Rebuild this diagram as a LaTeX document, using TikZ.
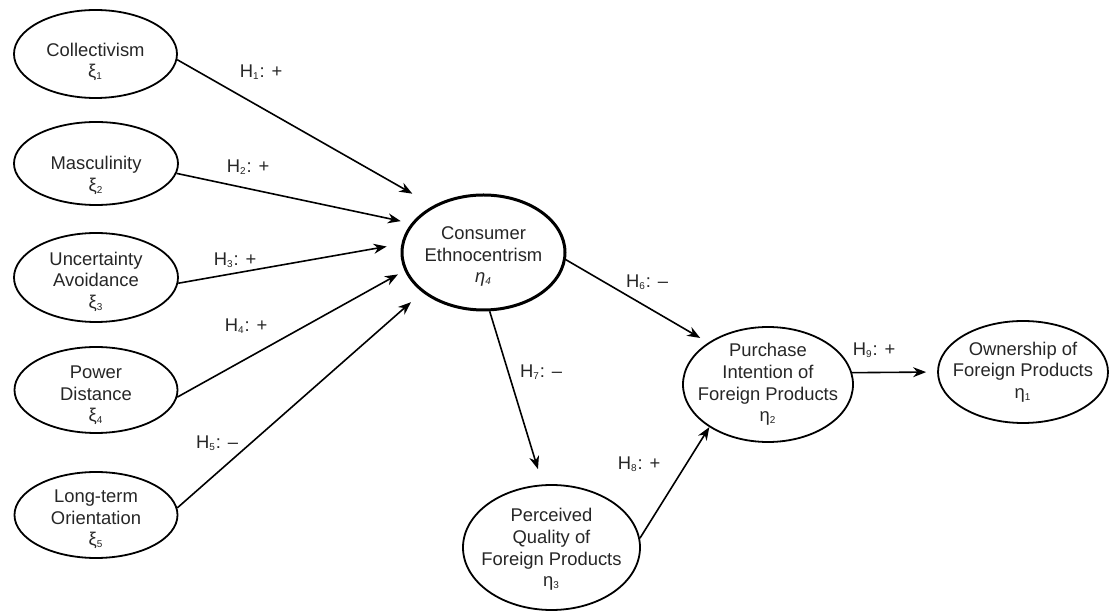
\documentclass[tikz,border=0pt]{standalone}
\usepackage{fontspec}
\setmainfont{Liberation Sans}
\usetikzlibrary{shapes.geometric,arrows.meta}

\begin{document}
\begin{tikzpicture}[>={Stealth[length=6.5bp,width=5bp]},line join=bevel,
  font=\fontsize{9.2bp}{10.8bp}\selectfont,
  latent/.style={ellipse,draw,line width=0.9bp,inner sep=-20bp,align=center,text=black!85},
  hyp/.style={inner sep=1bp,text=black!85},
  path/.style={black,->,line width=0.8bp}]
\useasboundingbox (0bp,0bp) rectangle (555bp,305.5bp);
%%
\node (node_coll) at (47.75bp,278.5bp) [latent,text height=25.5bp,minimum width=81.5bp,minimum height=44bp] {Collectivism\\ξ\textsubscript{\tiny 1}};
  \node (node_masc) at (48.0bp,223.75bp) [latent,text height=29.5bp,minimum width=82bp,minimum height=41.5bp] {Masculinity\\ξ\textsubscript{\tiny 2}};
  \node (node_unc) at (48.0bp,166.75bp) [latent,text height=32.3bp,minimum width=82bp,minimum height=44.5bp] {Uncertainty\\Avoidance\\ξ\textsubscript{\tiny 3}};
  \node (node_pow) at (48.0bp,110.5bp) [latent,text height=33.3bp,minimum width=81.5bp,minimum height=43bp] {Power\\Distance\\ξ\textsubscript{\tiny 4}};
  \node (node_lto) at (48.0bp,48.0bp) [latent,text height=32.3bp,minimum width=81.5bp,minimum height=43bp] {Long-term\\Orientation\\ξ\textsubscript{\tiny 5}};
  \node (node_ce) at (241.75bp,179.25bp) [latent,text height=32.3bp,line width=1.5bp,minimum width=81.5bp,minimum height=57.5bp] {Consumer\\Ethnocentrism\\\textit{η}\textsubscript{\tiny\itshape 4}};
  \node (node_pi) at (384.0bp,113.25bp) [latent,minimum width=85bp,minimum height=57.5bp] {Purchase\\Intention of\\Foreign Products\\η\textsubscript{\tiny 2}};
  \node (node_pq) at (275.75bp,31.75bp) [latent,text height=41.1bp,minimum width=88.5bp,minimum height=62.5bp] {Perceived\\Quality of\\Foreign Products\\η\textsubscript{\tiny 3}};
  \node (node_own) at (511.5bp,119.5bp) [latent,minimum width=85bp,minimum height=51bp] {Ownership of\\Foreign Products\\η\textsubscript{\tiny 1}};
%
  \node (h_1) at (130.5bp,269.5bp) [hyp] {H\textsubscript{\tiny 1}: +};
  \node (h_2) at (124.0bp,222.0bp) [hyp] {H\textsubscript{\tiny 2}: +};
  \node (h_3) at (117.5bp,175.5bp) [hyp] {H\textsubscript{\tiny 3}: +};
  \node (h_4) at (123.0bp,142.5bp) [hyp] {H\textsubscript{\tiny 4}: +};
  \node (h_5) at (108.5bp,84.0bp) [hyp] {H\textsubscript{\tiny 5}: –};
  \node (h_6) at (323.5bp,164.5bp) [hyp] {H\textsubscript{\tiny 6}: –};
  \node (h_7) at (270.5bp,119.5bp) [hyp] {H\textsubscript{\tiny 7}: –};
  \node (h_8) at (319.5bp,73.5bp) [hyp] {H\textsubscript{\tiny 8}: +};
  \node (h_9) at (437.0bp,130.5bp) [hyp] {H\textsubscript{\tiny 9}: +};
%
  \draw [path,shorten >=12bp] (node_coll.-4) -- (node_ce.137.5);
  \draw [path,shorten >=5.4bp] (node_masc.-7) -- (node_ce.158.3);
  \draw [path,shorten >=7.5bp] (node_unc.-4) -- (node_ce.174.3);
  \draw [path,shorten >=3.8bp] (node_pow.-5) -- (node_ce.193.8);
  \draw [path,shorten >=7.5bp] (node_lto.5) -- (node_ce.213.8);
  \draw [path,shorten >=4.6bp] (node_ce.-5) -- (node_pi.145.8);
  \draw [path,shorten >=8bp] (node_ce.-84) -- (node_pq.98.5);
  \draw [path] (node_pq.6.6) -- (node_pi.216.2);
  \draw [path,shorten >=5.5bp] (node_pi.8) -- (node_own.180);
%
\end{tikzpicture}
\end{document}
